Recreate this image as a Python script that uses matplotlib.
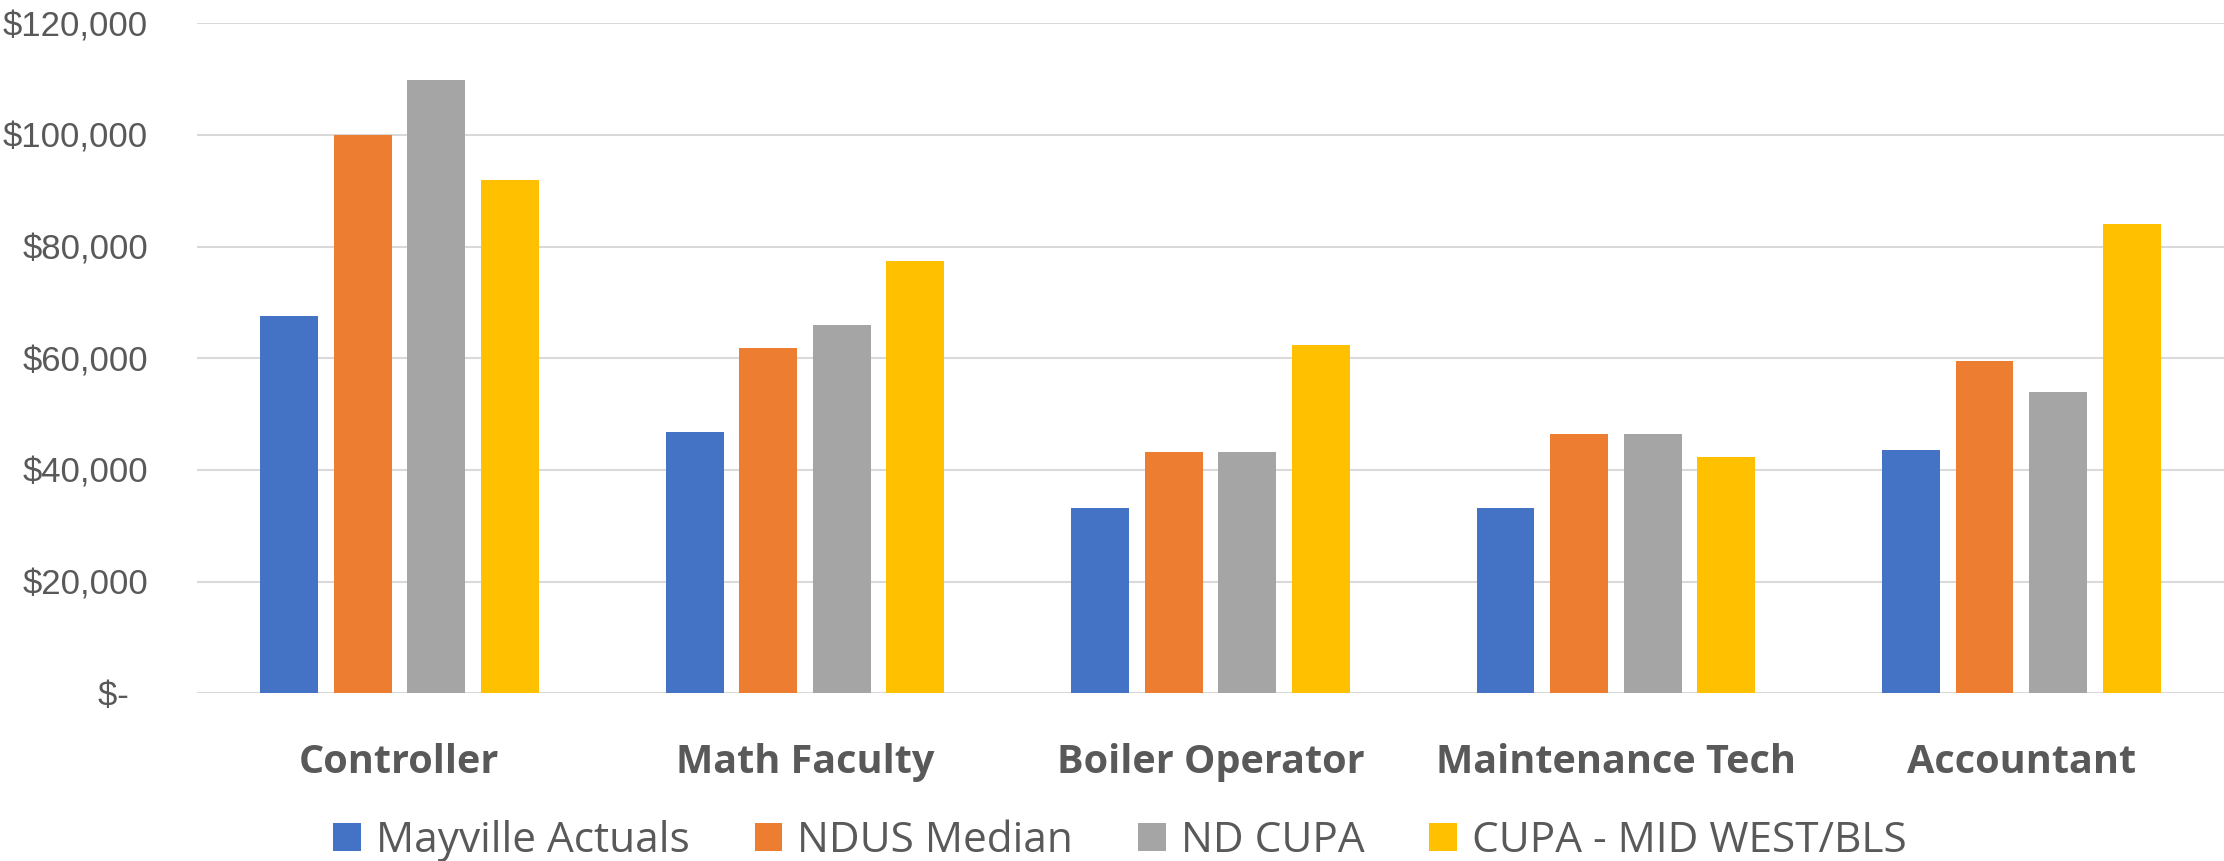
import matplotlib
matplotlib.use("Agg")
import matplotlib.pyplot as plt
import numpy as np
from matplotlib.patches import Patch
from matplotlib.ticker import FuncFormatter

categories = ["Controller", "Math Faculty", "Boiler Operator", "Maintenance Tech", "Accountant"]
series_names = ["Mayville Actuals", "NDUS Median", "ND CUPA", "CUPA - MID WEST/BLS"]
mayville = [67500, 46800, 33100, 33100, 43500]
ndus = [100000, 61800, 43300, 46400, 59600]
nd_cupa = [109800, 65900, 43300, 46400, 53900]
cupa_mw = [92000, 77500, 62400, 42400, 84000]
colors = ["#4472C4", "#ED7D31", "#A5A5A5", "#FFC000"]
yticks = [0, 20000, 40000, 60000, 80000, 100000, 120000]

W, H = 2224, 861
fig = plt.figure(figsize=(W / 100, H / 100), dpi=100)
ax = fig.add_axes([196.7 / W, 1 - 693.3 / H, 1 - 196.7 / W, (693.3 - 23.3) / H])

x = np.arange(len(categories))
pitch = 73.6 / 405.8
width = 58.0 / 405.8
data = [mayville, ndus, nd_cupa, cupa_mw]
for j, (vals, c) in enumerate(zip(data, colors)):
    ax.bar(x + (j - 1.5) * pitch, vals, width=width, color=c, zorder=3)

ax.set_xlim(-0.5, len(categories) - 0.5)
ax.set_ylim(0, 120000)
ax.set_yticks(yticks)

def fmt(v, pos):
    if v == 0:
        return "$-  "
    return "${:,.0f}".format(v)

ax.yaxis.set_major_formatter(FuncFormatter(fmt))
ax.grid(axis="y", color="#D9D9D9", linewidth=1.5, zorder=0)
for s in ax.spines.values():
    s.set_visible(False)
ax.tick_params(axis="both", length=0)
ax.tick_params(axis="y", pad=35, labelcolor="#595959")
for lab in ax.get_yticklabels():
    lab.set_family(["Liberation Sans", "DejaVu Sans"])
    lab.set_fontsize(25)

ax.set_xticks(x)
ax.set_xticklabels(categories, fontsize=28.5, fontweight="bold", color="#595959",
                   family=["Open Sans", "DejaVu Sans"])
ax.tick_params(axis="x", pad=36)

handles = [Patch(facecolor=c, edgecolor="none") for c in colors]
leg = fig.legend(handles, series_names, loc="center", bbox_to_anchor=(1120 / W, 1 - 841 / H),
                 ncol=4, frameon=False, handlelength=0.65, handleheight=0.65,
                 handletextpad=0.35, columnspacing=1.54,
                 prop={"family": ["Open Sans", "DejaVu Sans"], "size": 30.5})
for t in leg.get_texts():
    t.set_color("#595959")

fig.savefig("out.png", dpi=100)
